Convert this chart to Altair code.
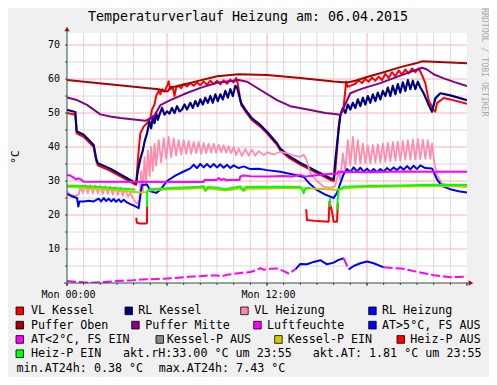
import altair as alt
import pandas as pd

# ----------------------------- data (hours, °C) -----------------------------
vl_kessel = [(0, 50.0), (0.5, 49.5), (0.58, 44.0), (1.0, 43.0), (1.4, 41.0), (1.6, 40.0), (1.75, 36.0),
             (1.85, 34.6), (2.6, 33.0), (4.0, 29.2), (4.15, 28.9), (4.25, 36.0), (4.3, 39.0), (4.4, 44.0),
             (4.6, 46.0), (4.8, 47.0), (5.0, 48.5), (5.1, 51.0), (5.25, 52.5), (5.35, 55.0), (5.5, 56.5),
             (5.6, 55.5), (5.7, 57.0), (5.85, 56.3), (6.0, 58.0), (6.1, 59.3), (6.2, 57.0), (6.35, 57.5),
             (6.45, 55.0), (6.55, 57.5), (6.7, 58.0), (6.85, 57.3), (7.0, 58.5), (7.2, 57.8), (7.4, 58.8),
             (7.6, 58.0), (7.8, 59.0), (8.0, 58.2), (8.2, 59.3), (8.4, 58.3), (8.6, 59.5), (8.8, 58.5),
             (9.0, 59.5), (9.2, 58.4), (9.4, 59.6), (9.6, 58.6), (9.8, 59.8), (10.0, 59.0), (10.15, 60.3),
             (10.25, 58.5), (10.45, 52.4), (10.7, 50.5), (11.1, 47.9), (11.6, 46.0), (12.0, 44.0),
             (12.6, 40.6), (12.8, 39.0), (13.3, 36.9), (14.0, 34.8), (15.0, 32.3), (15.8, 30.3), (16.0, 30.0),
             (16.1, 33.0), (16.2, 39.0), (16.3, 46.0), (16.4, 49.4), (16.6, 51.9), (16.75, 59.2), (16.85, 57.7),
             (17.1, 58.2), (17.3, 58.6), (17.5, 59.6), (17.7, 58.8), (17.9, 60.0), (18.1, 59.2), (18.3, 60.4),
             (18.5, 59.5), (18.7, 60.7), (18.9, 59.7), (19.1, 61.5), (19.3, 60.3), (19.5, 62.0), (19.7, 60.8),
             (19.9, 62.5), (20.1, 61.3), (20.3, 62.8), (20.5, 61.6), (20.7, 63.1), (20.9, 62.0), (21.1, 63.1),
             (21.3, 61.2), (21.5, 58.7), (21.7, 53.8), (22.0, 50.9), (22.1, 50.4), (22.2, 52.9), (22.6, 54.4),
             (23.0, 54.0), (24.0, 52.7)]

rl_kessel = [(0, 50.9), (0.5, 50.3), (0.58, 44.6), (1.0, 43.6), (1.4, 41.6), (1.6, 40.6), (1.75, 36.6),
             (1.85, 35.2), (2.6, 33.6), (4.0, 29.7), (4.15, 29.3), (4.25, 33.0), (4.4, 36.5), (4.55, 39.0),
             (4.65, 41.5), (4.8, 44.0), (4.95, 47.5), (5.05, 45.5), (5.15, 49.0), (5.25, 47.0), (5.35, 50.0),
             (5.45, 48.0), (5.55, 49.5), (5.7, 51.5), (5.85, 49.5), (6.0, 50.5), (6.15, 49.8), (6.3, 51.5),
             (6.45, 50.0), (6.6, 52.0), (6.75, 50.5), (6.9, 51.0), (7.05, 52.5), (7.2, 51.0), (7.4, 53.0),
             (7.55, 51.5), (7.7, 53.5), (7.85, 52.0), (8.0, 54.0), (8.15, 52.5), (8.3, 54.5), (8.45, 53.0),
             (8.6, 55.0), (8.75, 53.0), (8.9, 55.5), (9.05, 53.5), (9.2, 55.5), (9.35, 54.0), (9.5, 56.5),
             (9.65, 54.5), (9.8, 57.0), (9.95, 55.0), (10.1, 58.0), (10.2, 57.5), (10.45, 52.9), (10.7, 51.0),
             (11.1, 48.4), (11.6, 46.5), (12.0, 44.5), (12.6, 41.1), (12.8, 39.5), (13.3, 37.4), (14.0, 35.3),
             (15.0, 32.8), (15.8, 30.8), (16.0, 30.5), (16.1, 36.0), (16.25, 43.0), (16.4, 49.4), (16.55, 51.4),
             (16.7, 50.0), (16.85, 52.5), (17.0, 51.0), (17.15, 53.0), (17.3, 51.5), (17.45, 54.0), (17.6, 52.0),
             (17.75, 54.5), (17.9, 52.5), (18.05, 55.0), (18.2, 53.0), (18.35, 55.5), (18.5, 53.5), (18.65, 56.0),
             (18.8, 54.0), (18.95, 56.5), (19.1, 55.0), (19.25, 57.5), (19.4, 55.0), (19.55, 58.0), (19.7, 55.5),
             (19.85, 58.5), (20.0, 56.0), (20.15, 59.0), (20.3, 56.5), (20.45, 59.7), (20.6, 57.0), (20.75, 59.5),
             (20.9, 57.0), (21.05, 59.2), (21.2, 57.5), (21.4, 55.8), (21.7, 52.4), (21.9, 50.4), (22.1, 54.3),
             (22.4, 55.8), (23.0, 55.2), (24.0, 53.8)]

vl_heizung = [(0, 27.0), (0.2, 26.0), (0.45, 25.6), (0.7, 26.0), (0.8, 28.3), (0.95, 26.5), (1.1, 28.8),
              (1.25, 26.4), (1.4, 28.8), (1.55, 26.3), (1.7, 28.7), (1.85, 26.4), (2.0, 28.6), (2.15, 26.2),
              (2.3, 28.5), (2.45, 26.2), (2.6, 28.4), (2.75, 26.0), (2.9, 28.2), (3.05, 25.9), (3.2, 28.0),
              (3.35, 25.7), (3.5, 27.8), (3.65, 25.4), (3.8, 26.5), (4.0, 24.5), (4.2, 23.3), (4.35, 24.5),
              (4.45, 33.0), (4.55, 27.0), (4.65, 37.0), (4.75, 29.0), (4.85, 39.0), (4.95, 31.5), (5.05, 40.0),
              (5.15, 33.0), (5.25, 41.0), (5.35, 34.5), (5.5, 42.0), (5.65, 35.5), (5.8, 42.6), (5.95, 36.5),
              (6.1, 43.0), (6.25, 37.0), (6.4, 42.5), (6.55, 37.5), (6.7, 42.0), (6.85, 37.8), (7.0, 42.0),
              (7.15, 38.0), (7.3, 41.8), (7.45, 38.0), (7.6, 41.5), (7.75, 38.2), (7.9, 41.5), (8.05, 38.0),
              (8.2, 41.2), (8.35, 38.2), (8.5, 41.0), (8.65, 38.4), (8.8, 41.0), (8.95, 38.3), (9.1, 40.7),
              (9.25, 38.5), (9.4, 40.5), (9.55, 38.3), (9.7, 40.2), (9.85, 38.2), (10.0, 40.0), (10.15, 37.6),
              (10.3, 39.5), (10.5, 37.4), (10.7, 39.4), (10.9, 37.5), (11.1, 39.2), (11.3, 37.4), (11.5, 38.8),
              (11.8, 37.6), (12.0, 38.4), (12.4, 37.8), (12.8, 38.6), (13.2, 38.2), (13.6, 37.5), (14.0, 37.1),
              (14.2, 37.7), (14.35, 36.5), (14.6, 32.3), (15.0, 30.0), (15.4, 28.3), (15.8, 28.0), (16.1, 28.5),
              (16.3, 33.0), (16.4, 30.5), (16.55, 38.1), (16.7, 33.0), (16.85, 42.0), (17.0, 34.5), (17.15, 43.0),
              (17.3, 35.0), (17.45, 42.0), (17.6, 35.2), (17.75, 41.0), (17.9, 35.3), (18.05, 40.5), (18.2, 35.2),
              (18.35, 40.6), (18.5, 35.4), (18.65, 40.8), (18.8, 35.5), (18.95, 41.0), (19.1, 35.6), (19.25, 41.2),
              (19.4, 35.8), (19.55, 41.4), (19.7, 36.0), (19.85, 41.6), (20.0, 36.0), (20.15, 41.8), (20.3, 36.2),
              (20.45, 42.0), (20.6, 36.2), (20.75, 42.2), (20.9, 36.3), (21.05, 42.3), (21.2, 36.4), (21.35, 42.2),
              (21.5, 36.5), (21.65, 42.0), (21.8, 36.5), (21.9, 41.0), (22.05, 35.2), (22.2, 31.8), (22.5, 29.3),
              (23.0, 28.6), (24.0, 28.3)]

rl_heizung = [(0, 26.2), (0.3, 25.5), (0.6, 25.0), (0.68, 22.5), (0.75, 24.0), (1.0, 24.0), (1.3, 24.2),
              (1.6, 24.0), (1.9, 24.8), (2.05, 24.0), (2.2, 25.0), (2.35, 24.1), (2.5, 24.8), (2.65, 24.0),
              (2.8, 24.7), (2.95, 23.9), (3.1, 24.6), (3.25, 23.8), (3.4, 24.5), (3.6, 23.7), (3.8, 23.2),
              (4.0, 22.8), (4.3, 22.0), (4.45, 27.4), (4.5, 28.8), (4.8, 29.0), (5.0, 27.0), (5.35, 26.5),
              (5.6, 27.4), (6.0, 30.0), (6.5, 31.6), (7.0, 32.8), (7.4, 33.7), (7.6, 34.8), (7.8, 33.8),
              (8.0, 35.0), (8.2, 34.0), (8.4, 35.0), (8.6, 34.0), (8.8, 35.0), (9.0, 34.0), (9.2, 34.9),
              (9.4, 33.9), (9.6, 34.8), (9.8, 33.8), (10.0, 34.6), (10.3, 33.8), (10.6, 34.3), (11.0, 33.5),
              (11.5, 33.6), (12.0, 33.2), (12.8, 32.7), (13.5, 32.0), (14.2, 31.2), (14.5, 29.5), (15.0, 27.3),
              (15.5, 26.0), (16.0, 25.0), (16.2, 26.5), (16.4, 29.3), (16.6, 32.0), (16.8, 33.5), (17.0, 32.6),
              (17.2, 34.0), (17.4, 32.8), (17.6, 33.9), (17.8, 32.7), (18.0, 33.6), (18.2, 32.6), (18.4, 33.5),
              (18.6, 32.6), (18.8, 33.5), (19.0, 32.8), (19.2, 33.8), (19.4, 33.0), (19.6, 34.0), (19.8, 33.2),
              (20.0, 34.2), (20.2, 33.3), (20.4, 34.4), (20.6, 33.4), (20.8, 34.5), (21.0, 33.5), (21.2, 34.6),
              (21.5, 33.8), (21.9, 33.7), (22.2, 30.5), (22.5, 28.5), (23.0, 27.6), (23.5, 27.0), (24.0, 26.6)]

puffer_oben = [(0, 59.7), (5.5, 57.0), (5.85, 56.4), (6.05, 56.4), (6.2, 57.6), (6.5, 57.8), (7.2, 58.6),
               (8.0, 59.6), (9.0, 60.8), (10.3, 61.4), (12.0, 61.2), (14.0, 60.3), (16.0, 59.3), (16.8, 59.0),
               (17.3, 59.5), (18.0, 60.6), (19.0, 62.0), (20.0, 63.5), (21.0, 64.7), (21.3, 65.2), (22.0, 65.1),
               (24.0, 64.6)]

puffer_mitte = [(0, 54.6), (0.6, 53.8), (1.2, 52.4), (2.0, 49.6), (2.6, 49.0), (3.2, 48.5), (4.7, 47.7),
                (5.2, 48.9), (5.6, 52.3), (6.2, 53.8), (7.0, 55.5), (8.0, 57.4), (9.0, 58.9), (10.3, 59.7),
                (10.8, 59.2), (11.0, 58.6), (12.6, 53.8), (13.4, 52.0), (14.6, 50.9), (15.5, 50.0), (16.2, 49.6),
                (16.4, 49.4), (17.0, 55.8), (17.5, 56.8), (18.0, 57.6), (18.8, 58.8), (20.0, 61.0), (21.3, 63.3),
                (21.6, 62.8), (22.0, 61.4), (22.6, 60.2), (23.3, 59.0), (24.0, 57.9)]

luftfeuchte = [(0, 31.8), (0.2, 31.6), (0.4, 31.0), (0.55, 30.5), (0.7, 30.8), (0.85, 30.4), (1.0, 29.8),
               (8.2, 29.7), (8.25, 30.3), (9.0, 30.3), (9.1, 30.9), (9.25, 30.3), (9.4, 30.6), (9.55, 30.3),
               (10.35, 30.3), (10.4, 31.3), (10.6, 31.6), (11.0, 31.4), (12.0, 31.3), (13.0, 31.5), (13.5, 31.3),
               (14.0, 31.8), (14.3, 31.3), (15.0, 31.7), (15.5, 32.0), (16.2, 32.2), (16.3, 32.7), (18.0, 32.6),
               (20.0, 32.8), (22.0, 32.7), (24.0, 32.7)]

# outside temperature, with the colour of the segment that starts at each point (m = AT<2°C, b = AT>5°C)
aussen_temp = [(0, 0.6, "m"), (0.5, 0.4, "m"), (1.0, 0.2, "m"), (1.5, 0.1, "m"), (2.0, 0.2, "m"),
               (2.5, 0.4, "m"), (3.0, 0.6, "m"), (3.5, 0.7, "m"), (4.0, 0.8, "m"), (4.5, 1.0, "m"),
               (5.0, 1.1, "m"), (5.5, 1.2, "m"), (6.0, 1.3, "m"), (6.5, 1.5, "m"), (7.0, 1.7, "m"),
               (7.5, 1.9, "m"), (8.0, 2.0, "m"), (8.5, 2.2, "m"), (9.0, 2.2, "m"), (9.3, 2.0, "m"),
               (9.6, 2.4, "m"), (10.0, 2.7, "m"), (10.5, 3.0, "m"), (11.0, 3.2, "m"), (11.4, 3.9, "m"),
               (11.6, 4.4, "m"), (11.8, 3.9, "m"), (12.2, 4.2, "m"), (12.6, 4.3, "m"), (13.0, 3.5, "m"),
               (13.3, 2.8, "m"), (13.7, 4.0, "b"), (14.0, 5.6, "b"), (14.4, 5.5, "b"), (14.8, 6.2, "b"),
               (15.2, 6.7, "b"), (15.6, 5.5, "b"), (16.0, 6.0, "b"), (16.3, 6.8, "b"), (16.6, 7.3, "m"),
               (16.9, 4.0, "b"), (17.2, 5.0, "b"), (17.6, 5.8, "b"), (18.0, 6.3, "b"), (18.4, 5.8, "b"),
               (19.0, 4.6, "m"), (19.5, 4.4, "m"), (20.0, 4.3, "m"), (20.5, 3.8, "m"), (21.0, 3.3, "m"),
               (21.5, 2.8, "m"), (22.0, 2.3, "m"), (22.5, 2.0, "m"), (23.0, 1.7, "m"), (23.5, 1.8, "m"),
               (24.0, 1.9, "m")]

kessel_p_ein = [(0, 28.3), (1.0, 28.0), (2.0, 27.7), (3.0, 27.3), (4.0, 26.8), (4.5, 26.6), (4.8, 26.8),
                (4.85, 27.2), (5.5, 27.4), (6.5, 27.6), (7.5, 27.8), (8.2, 28.0), (8.3, 27.0), (8.5, 27.8),
                (9.5, 27.2), (10.0, 27.5), (10.4, 27.9), (10.6, 27.0), (10.8, 27.7), (12.0, 27.8), (13.0, 27.9),
                (14.0, 27.9), (14.5, 27.8), (15.0, 27.7), (15.8, 27.5), (16.2, 27.4), (16.3, 27.6), (17.0, 28.0),
                (18.0, 28.2), (20.0, 28.4), (22.0, 28.5), (24.0, 28.4)]

# (hours, °C, segment)
heiz_p_aus = [(4.15, 19.2, 0), (4.2, 17.7, 0), (4.35, 17.5, 0), (4.78, 17.5, 0), (4.8, 17.8, 0), (4.81, 23.0, 0),
              (14.35, 21.7, 1), (14.4, 18.5, 1), (15.0, 18.2, 1), (15.7, 18.0, 1), (15.75, 24.0, 1),
              (15.9, 21.0, 1), (16.0, 18.0, 1), (16.2, 18.0, 1), (16.25, 23.5, 1)]

heiz_p_ein = [(0, 28.6, 0), (1.0, 28.5, 0), (2.0, 28.2, 0), (3.0, 27.9, 0), (4.0, 27.5, 0), (4.1, 27.4, 0),
              (4.8, 22.4, 1), (4.81, 26.9, 1), (5.0, 27.6, 1), (6.0, 27.9, 1), (7.0, 28.1, 1), (8.0, 28.3, 1),
              (8.2, 28.5, 1), (8.3, 27.4, 1), (8.45, 28.2, 1), (9.0, 28.0, 1), (9.5, 27.6, 1), (9.8, 27.9, 1),
              (10.4, 28.4, 1), (10.55, 27.4, 1), (10.75, 28.2, 1), (11.5, 28.3, 1), (12.0, 28.2, 1),
              (13.0, 28.3, 1), (14.0, 28.2, 1), (14.1, 27.6, 1), (14.2, 26.4, 1), (14.3, 27.8, 1), (14.6, 28.0, 1),
              (15.78, 22.4, 2), (15.79, 24.9, 2),
              (16.2, 21.5, 3), (16.25, 25.0, 3), (16.3, 27.4, 3), (16.6, 28.3, 3), (18.0, 28.5, 3),
              (20.0, 28.7, 3), (22.0, 28.9, 3), (24.0, 28.8, 3)]

y_label_values = [10, 20, 30, 40, 50, 60, 70]
x_label_hours = [0, 12]
x_label_texts = ["Mon 00:00", "Mon 12:00"]
minor_hours = [h for h in range(1, 24) if h % 6 != 0]
major_hours = [6, 12, 18]
minor_values = [5, 15, 25, 35, 45, 55, 65]
major_values = [10, 20, 30, 40, 50, 60, 70]
tick_hours = list(range(0, 25))
tick_values = [5, 10, 15, 20, 25, 30, 35, 40, 45, 50, 55, 60, 65, 70]

title_text = "Temperaturverlauf Heizung am: 06.04.2015"
unit_text = "°C"
watermark_text = "RRDTOOL / TOBI OETIKER"
legend_labels = ["VL Kessel", "RL Kessel", "VL Heizung", "RL Heizung",
                 "Puffer Oben", "Puffer Mitte", "Luftfeuchte", "AT>5°C, FS AUS",
                 "AT<2°C, FS EIN", "Kessel-P AUS", "Kessel-P EIN", "Heiz-P AUS",
                 "Heiz-P EIN"]
legend_colors = ["#ff0000", "#000080", "#ff88aa", "#0000ff",
                 "#aa0000", "#880088", "#ff00ff", "#0000ff",
                 "#ff00ff", "#888888", "#cccc00", "#ff0000",
                 "#00ff00"]
info_texts = ["akt.rH:33.00 °C um 23:55", "akt.AT: 1.81 °C um 23:55",
              "min.AT24h: 0.38 °C", "max.AT24h: 7.43 °C"]

# ----------------------------- layout -----------------------------
OX, OY = 67, 33          # plot origin in page pixels
W, H = 400, 250
MONO = "DejaVu Sans Mono"
AXIS_COL = "#2c4d43"
ARROW_COL = "#a01010"
GRID_COL = "#dadada"
MGRID_COL = "#f2b4b4"

XS = alt.Scale(domain=[0, 24], nice=False, zero=False)
YS = alt.Scale(domain=[0, 73.53], nice=False, zero=False)


def px(x):
    return x - OX


def py(y):
    return y - OY


one = pd.DataFrame({"a": [0]})


def line_layer(points, color, width=2.0, dash=None):
    hs = [p[0] for p in points]
    vs = [p[1] for p in points]
    sg = [p[2] for p in points] if len(points[0]) == 3 else [0] * len(points)
    df = pd.DataFrame({"h": hs, "v": vs, "seg": sg, "i": list(range(len(hs)))})
    kw = dict(color=color, strokeWidth=width, clip=True, strokeJoin="round")
    if dash:
        kw["strokeDash"] = dash
    return alt.Chart(df).mark_line(**kw).encode(
        x=alt.X("h:Q", scale=XS, axis=None),
        y=alt.Y("v:Q", scale=YS, axis=None),
        detail="seg:N",
        order="i:Q",
    )


def split_colored(points):
    segs = {"m": [], "b": []}
    sid = 0
    cur = None
    for i in range(len(points) - 1):
        c = points[i][2]
        if c != cur:
            sid += 1
            cur = c
            segs[c].append((points[i][0], points[i][1], sid))
        segs[c].append((points[i + 1][0], points[i + 1][1], sid))
    return segs


def text_layer(txt, x, y, size=11.7, align="left", baseline="alphabetic", color="#000000", angle=0):
    kw = dict(align=align, baseline=baseline, fontSize=size, font=MONO, color=color)
    if angle:
        kw["angle"] = angle
    return alt.Chart(pd.DataFrame({"t": [txt]})).mark_text(**kw).encode(
        x=alt.value(x), y=alt.value(y), text="t:N")


layers = []

# grid
layers.append(alt.Chart(pd.DataFrame({"h": minor_hours})).mark_rule(color=GRID_COL, strokeWidth=1)
              .encode(x=alt.X("h:Q", scale=XS, axis=None)))
layers.append(alt.Chart(pd.DataFrame({"v": minor_values})).mark_rule(color=GRID_COL, strokeWidth=1)
              .encode(y=alt.Y("v:Q", scale=YS, axis=None)))
layers.append(alt.Chart(pd.DataFrame({"h": major_hours})).mark_rule(color=MGRID_COL, strokeWidth=1)
              .encode(x=alt.X("h:Q", scale=XS, axis=None)))
layers.append(alt.Chart(pd.DataFrame({"v": major_values})).mark_rule(color=MGRID_COL, strokeWidth=1)
              .encode(y=alt.Y("v:Q", scale=YS, axis=None)))

# data lines (drawing order as in the legend)
layers.append(line_layer(vl_kessel, "#ff0000"))
layers.append(line_layer(rl_kessel, "#000080", 2.2))
layers.append(line_layer(vl_heizung, "#ff8cac", 1.8))
layers.append(line_layer(rl_heizung, "#0000ff"))
layers.append(line_layer(puffer_oben, "#aa0000"))
layers.append(line_layer(puffer_mitte, "#880088"))
layers.append(line_layer(luftfeuchte, "#ff00ff"))
at = split_colored(aussen_temp)
layers.append(line_layer(at["b"], "#0000ff"))
layers.append(line_layer(at["m"], "#ff00ff", 2.0, [9, 3]))
layers.append(line_layer(kessel_p_ein, "#c8c800"))
layers.append(line_layer(heiz_p_aus, "#ff0000"))
layers.append(line_layer(heiz_p_ein, "#00ff00"))

# axes
layers.append(alt.Chart(one).mark_rule(color=AXIS_COL, strokeWidth=1)
              .encode(x=alt.value(-3), x2=alt.value(W + 4), y=alt.value(H)))
layers.append(alt.Chart(one).mark_rule(color=AXIS_COL, strokeWidth=1)
              .encode(x=alt.value(0), y=alt.value(-4), y2=alt.value(H + 3)))
layers.append(alt.Chart(pd.DataFrame({"h": tick_hours})).mark_rule(color=AXIS_COL, strokeWidth=1)
              .encode(x=alt.X("h:Q", scale=XS, axis=None), y=alt.value(H), y2=alt.value(H + 2)))
layers.append(alt.Chart(pd.DataFrame({"h": [0, 6, 12, 18, 24]})).mark_rule(color=AXIS_COL, strokeWidth=1)
              .encode(x=alt.X("h:Q", scale=XS, axis=None), y=alt.value(H), y2=alt.value(H + 3)))
layers.append(alt.Chart(pd.DataFrame({"v": tick_values})).mark_rule(color=AXIS_COL, strokeWidth=1)
              .encode(y=alt.Y("v:Q", scale=YS, axis=None), x=alt.value(-2), x2=alt.value(0)))
layers.append(alt.Chart(one).mark_point(shape="triangle-right", filled=True, size=28, color=ARROW_COL, opacity=1)
              .encode(x=alt.value(W + 4), y=alt.value(H)))
layers.append(alt.Chart(one).mark_point(shape="triangle-up", filled=True, size=28, color=ARROW_COL, opacity=1)
              .encode(x=alt.value(0), y=alt.value(-4)))

# axis labels
layers.append(alt.Chart(pd.DataFrame({"v": y_label_values}))
              .mark_text(align="right", baseline="middle", fontSize=10, font=MONO, color="#000000")
              .encode(x=alt.value(-7), y=alt.Y("v:Q", scale=YS, axis=None), text="v:Q"))
layers.append(alt.Chart(pd.DataFrame({"h": x_label_hours, "t": x_label_texts}))
              .mark_text(align="center", baseline="alphabetic", fontSize=10, font=MONO, color="#000000", dx=1.5)
              .encode(x=alt.X("h:Q", scale=XS, axis=None), y=alt.value(py(297.5)), text="t:N"))

# title, unit, watermark
layers.append(text_layer(title_text, px(248), py(20.5), size=13.3, align="center"))
layers.append(text_layer(unit_text, px(16), py(157), size=11.0, align="center", baseline="middle", angle=270))
layers.append(text_layer(watermark_text, px(483.5), py(8), size=8.2, align="left", baseline="middle",
                         color="#aaaaaa", angle=90))

# legend
legend_pos = [(16, 31, 0), (125, 138.3, 0), (240.7, 254.3, 0), (368.7, 382, 0),
              (16, 31, 1), (131.7, 145.3, 1), (253.7, 267, 1), (368.7, 382, 1),
              (16, 31, 2), (156, 166.7, 2), (274.7, 287.7, 2), (397, 410.3, 2),
              (16, 31, 3)]
row_base = [314.3, 328.6, 342.9, 357.2, 371.5]
for lab, col, (sx, tx, r) in zip(legend_labels, legend_colors, legend_pos):
    b = row_base[r]
    layers.append(alt.Chart(one).mark_rect(fill=col, stroke="#000000", strokeWidth=0.8)
                  .encode(x=alt.value(px(sx)), x2=alt.value(px(sx + 7.5)),
                          y=alt.value(py(b - 7.3)), y2=alt.value(py(b + 0.4))))
    layers.append(text_layer(lab, px(tx), py(b)))

info_pos = [(123, 3), (312.7, 3), (16.5, 4), (158.7, 4)]
for txt, (tx, r) in zip(info_texts, info_pos):
    layers.append(text_layer(txt, px(tx), py(row_base[r])))

chart = alt.layer(*layers).properties(
    width=W, height=H,
    padding={"left": 59, "top": 25, "right": 22, "bottom": 94},
    autosize=alt.AutoSizeParams(type="none"),
    background="#f0f0f0",
).configure_view(fill="#ffffff", strokeWidth=0)

chart.save("out.html", embed_options={"renderer": "svg", "actions": False})
